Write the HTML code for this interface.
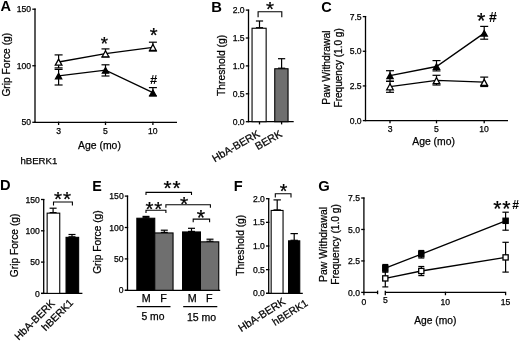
<!DOCTYPE html>
<html><head><meta charset="utf-8"><style>
html,body{margin:0;padding:0;background:#fff;}
body{width:520px;height:341px;overflow:hidden;}
svg{display:block;will-change:transform;}
text{font-family:"Liberation Sans", sans-serif;stroke:#000;stroke-width:0.25px;paint-order:stroke;}
text[font-weight="bold"]{stroke:none;}
</style></head><body>
<svg width="520" height="341" viewBox="0 0 520 341" font-family="Liberation Sans, sans-serif">
<rect width="520" height="341" fill="#fff"/>
<text x="0.51" y="11.47" font-size="14.56" font-weight="bold" fill="#000">A</text>
<line x1="35" y1="8.6" x2="35" y2="122.3" stroke="#000" stroke-width="1.3"/>
<line x1="32.3" y1="9.2" x2="35.65" y2="9.2" stroke="#000" stroke-width="1.3"/>
<text x="16.82" y="12.37" font-size="8.6">150</text>
<line x1="32.3" y1="65.75" x2="35.65" y2="65.75" stroke="#000" stroke-width="1.3"/>
<text x="16.82" y="68.92" font-size="8.6">100</text>
<line x1="32.3" y1="122.3" x2="35.65" y2="122.3" stroke="#000" stroke-width="1.3"/>
<text x="21.6" y="125.47" font-size="8.6">50</text>
<line x1="34.35" y1="122.3" x2="177" y2="122.3" stroke="#000" stroke-width="1.3"/>
<line x1="58.6" y1="121.65" x2="58.6" y2="125" stroke="#000" stroke-width="1.3"/>
<text x="56.23" y="133.62" font-size="8.6">3</text>
<line x1="105.5" y1="121.65" x2="105.5" y2="125" stroke="#000" stroke-width="1.3"/>
<text x="103.11" y="133.53" font-size="8.6">5</text>
<line x1="152.9" y1="121.65" x2="152.9" y2="125" stroke="#000" stroke-width="1.3"/>
<text x="147.98" y="133.62" font-size="8.6">10</text>
<text x="78.05" y="148.93" font-size="10.41" fill="#000">Age (mo)</text>
<text x="20.43" y="164.18" font-size="9.61" fill="#000">hBERK1</text>
<text transform="translate(9.54,96.61) rotate(-90)" font-size="10.26">Grip Force (g)</text>
<polyline points="58.6,62 105.5,53.6 152.9,47.3" fill="none" stroke="#000" stroke-width="1.35" stroke-linejoin="miter"/>
<polyline points="58.6,75.9 105.5,70.2 152.9,92.7" fill="none" stroke="#000" stroke-width="1.35" stroke-linejoin="miter"/>
<line x1="58.6" y1="54.9" x2="58.6" y2="67.9" stroke="#000" stroke-width="1.2"/>
<line x1="54.6" y1="54.9" x2="62.6" y2="54.9" stroke="#000" stroke-width="1.2"/>
<line x1="54.6" y1="67.9" x2="62.6" y2="67.9" stroke="#000" stroke-width="1.2"/>
<line x1="105.5" y1="48.9" x2="105.5" y2="57" stroke="#000" stroke-width="1.2"/>
<line x1="101.5" y1="48.9" x2="109.5" y2="48.9" stroke="#000" stroke-width="1.2"/>
<line x1="101.5" y1="57" x2="109.5" y2="57" stroke="#000" stroke-width="1.2"/>
<line x1="152.9" y1="42.2" x2="152.9" y2="51" stroke="#000" stroke-width="1.2"/>
<line x1="148.9" y1="42.2" x2="156.9" y2="42.2" stroke="#000" stroke-width="1.2"/>
<line x1="148.9" y1="51" x2="156.9" y2="51" stroke="#000" stroke-width="1.2"/>
<line x1="58.6" y1="69.4" x2="58.6" y2="85" stroke="#000" stroke-width="1.2"/>
<line x1="54.6" y1="69.4" x2="62.6" y2="69.4" stroke="#000" stroke-width="1.2"/>
<line x1="54.6" y1="85" x2="62.6" y2="85" stroke="#000" stroke-width="1.2"/>
<line x1="105.5" y1="64.8" x2="105.5" y2="76" stroke="#000" stroke-width="1.2"/>
<line x1="101.5" y1="64.8" x2="109.5" y2="64.8" stroke="#000" stroke-width="1.2"/>
<line x1="101.5" y1="76" x2="109.5" y2="76" stroke="#000" stroke-width="1.2"/>
<line x1="152.9" y1="87.6" x2="152.9" y2="96" stroke="#000" stroke-width="1.2"/>
<line x1="148.9" y1="87.6" x2="156.9" y2="87.6" stroke="#000" stroke-width="1.2"/>
<line x1="148.9" y1="96" x2="156.9" y2="96" stroke="#000" stroke-width="1.2"/>
<polygon points="55.3,65.2 61.9,65.2 58.6,59.15" fill="#fff" stroke="#000" stroke-width="1.3" stroke-linejoin="miter"/>
<polygon points="102.2,56.8 108.8,56.8 105.5,50.75" fill="#fff" stroke="#000" stroke-width="1.3" stroke-linejoin="miter"/>
<polygon points="149.6,50.5 156.2,50.5 152.9,44.45" fill="#fff" stroke="#000" stroke-width="1.3" stroke-linejoin="miter"/>
<polygon points="55.5,78.85 61.7,78.85 58.6,73.3" fill="#000" stroke="#000" stroke-width="1.3" stroke-linejoin="miter"/>
<polygon points="102.4,73.15 108.6,73.15 105.5,67.6" fill="#000" stroke="#000" stroke-width="1.3" stroke-linejoin="miter"/>
<polygon points="149.8,95.65 156,95.65 152.9,90.1" fill="#000" stroke="#000" stroke-width="1.3" stroke-linejoin="miter"/>
<text x="100.73" y="50.01" font-size="18.57" fill="#000">*</text>
<text x="149.82" y="41.77" font-size="20.14" fill="#000">*</text>
<text x="149.88" y="84.33" font-size="13.03" font-weight="bold" fill="#000">#</text>
<text x="211.23" y="11.8" font-size="14.79" font-weight="bold" fill="#000">B</text>
<line x1="248.5" y1="9.6" x2="248.5" y2="121.7" stroke="#000" stroke-width="1.3"/>
<line x1="245.8" y1="10.1" x2="249.15" y2="10.1" stroke="#000" stroke-width="1.3"/>
<text x="232.69" y="13.27" font-size="8.6">2.0</text>
<line x1="245.8" y1="38" x2="249.15" y2="38" stroke="#000" stroke-width="1.3"/>
<text x="232.69" y="41.12" font-size="8.6">1.5</text>
<line x1="245.8" y1="65.9" x2="249.15" y2="65.9" stroke="#000" stroke-width="1.3"/>
<text x="232.69" y="69.07" font-size="8.6">1.0</text>
<line x1="245.8" y1="93.8" x2="249.15" y2="93.8" stroke="#000" stroke-width="1.3"/>
<text x="232.69" y="96.97" font-size="8.6">0.5</text>
<line x1="245.8" y1="121.7" x2="249.15" y2="121.7" stroke="#000" stroke-width="1.3"/>
<text x="232.69" y="124.87" font-size="8.6">0.0</text>
<line x1="247.85" y1="121.7" x2="293.7" y2="121.7" stroke="#000" stroke-width="1.3"/>
<line x1="259.5" y1="121.05" x2="259.5" y2="124.4" stroke="#000" stroke-width="1.3"/>
<line x1="281.6" y1="121.05" x2="281.6" y2="124.4" stroke="#000" stroke-width="1.3"/>
<text transform="translate(225.05,95.91) rotate(-90)" font-size="10.28">Threshold (g)</text>
<line x1="259.5" y1="21" x2="259.5" y2="27.7" stroke="#000" stroke-width="1.2"/>
<line x1="255.9" y1="21" x2="263.1" y2="21" stroke="#000" stroke-width="1.2"/>
<line x1="255.9" y1="27.7" x2="263.1" y2="27.7" stroke="#000" stroke-width="1.2"/>
<rect x="252.05" y="28.25" width="14.1" height="93.45" fill="#fff" stroke="#000" stroke-width="1.1"/>
<line x1="281.6" y1="58.7" x2="281.6" y2="68.2" stroke="#000" stroke-width="1.2"/>
<line x1="278" y1="58.7" x2="285.2" y2="58.7" stroke="#000" stroke-width="1.2"/>
<line x1="278" y1="68.2" x2="285.2" y2="68.2" stroke="#000" stroke-width="1.2"/>
<rect x="274.75" y="68.75" width="13.3" height="52.95" fill="#6f6f6f" stroke="#000" stroke-width="1.1"/>
<polyline points="258.1,17.3 258.1,11.7 281.8,11.7 281.8,17.3" fill="none" stroke="#000" stroke-width="1.1" stroke-linejoin="miter"/>
<text x="265.94" y="15.94" font-size="20.57" fill="#000">*</text>
<text transform="translate(260.6,135.9) rotate(-30)" font-size="10.6" text-anchor="end">HbA-BERK</text>
<text transform="translate(282.8,135.9) rotate(-30)" font-size="10.6" text-anchor="end">BERK</text>
<text x="321.27" y="11.7" font-size="14.5" font-weight="bold" fill="#000">C</text>
<line x1="365.5" y1="16" x2="365.5" y2="120.6" stroke="#000" stroke-width="1.3"/>
<line x1="362.8" y1="16.6" x2="366.15" y2="16.6" stroke="#000" stroke-width="1.3"/>
<text x="349.69" y="19.72" font-size="8.6">7.5</text>
<line x1="362.8" y1="51.27" x2="366.15" y2="51.27" stroke="#000" stroke-width="1.3"/>
<text x="349.69" y="54.43" font-size="8.6">5.0</text>
<line x1="362.8" y1="85.93" x2="366.15" y2="85.93" stroke="#000" stroke-width="1.3"/>
<text x="349.69" y="89.1" font-size="8.6">2.5</text>
<line x1="362.8" y1="120.6" x2="366.15" y2="120.6" stroke="#000" stroke-width="1.3"/>
<text x="349.69" y="123.77" font-size="8.6">0.0</text>
<line x1="364.85" y1="120.6" x2="508" y2="120.6" stroke="#000" stroke-width="1.3"/>
<line x1="390" y1="119.95" x2="390" y2="123.3" stroke="#000" stroke-width="1.3"/>
<text x="387.63" y="131.92" font-size="8.6">3</text>
<line x1="436.5" y1="119.95" x2="436.5" y2="123.3" stroke="#000" stroke-width="1.3"/>
<text x="434.11" y="131.83" font-size="8.6">5</text>
<line x1="484.2" y1="119.95" x2="484.2" y2="123.3" stroke="#000" stroke-width="1.3"/>
<text x="479.28" y="131.92" font-size="8.6">10</text>
<text x="412.25" y="144.92" font-size="10.38" fill="#000">Age (mo)</text>
<text transform="translate(330.03,104.73) rotate(-90)" font-size="10.38">Paw Withdrawal</text>
<text transform="translate(342.19,107.5) rotate(-90)" font-size="10.05">Frequency (1.0 g)</text>
<polyline points="390,86.6 436.5,80.4 484.2,82.2" fill="none" stroke="#000" stroke-width="1.35" stroke-linejoin="miter"/>
<polyline points="390,75.6 436.5,66.5 484.2,33.1" fill="none" stroke="#000" stroke-width="1.35" stroke-linejoin="miter"/>
<line x1="390" y1="81.3" x2="390" y2="92.3" stroke="#000" stroke-width="1.2"/>
<line x1="386" y1="81.3" x2="394" y2="81.3" stroke="#000" stroke-width="1.2"/>
<line x1="386" y1="92.3" x2="394" y2="92.3" stroke="#000" stroke-width="1.2"/>
<line x1="436.5" y1="75.3" x2="436.5" y2="85" stroke="#000" stroke-width="1.2"/>
<line x1="432.5" y1="75.3" x2="440.5" y2="75.3" stroke="#000" stroke-width="1.2"/>
<line x1="432.5" y1="85" x2="440.5" y2="85" stroke="#000" stroke-width="1.2"/>
<line x1="484.2" y1="77.1" x2="484.2" y2="86.5" stroke="#000" stroke-width="1.2"/>
<line x1="480.2" y1="77.1" x2="488.2" y2="77.1" stroke="#000" stroke-width="1.2"/>
<line x1="480.2" y1="86.5" x2="488.2" y2="86.5" stroke="#000" stroke-width="1.2"/>
<line x1="390" y1="70.7" x2="390" y2="81.3" stroke="#000" stroke-width="1.2"/>
<line x1="386" y1="70.7" x2="394" y2="70.7" stroke="#000" stroke-width="1.2"/>
<line x1="386" y1="81.3" x2="394" y2="81.3" stroke="#000" stroke-width="1.2"/>
<line x1="436.5" y1="60.6" x2="436.5" y2="70.9" stroke="#000" stroke-width="1.2"/>
<line x1="432.5" y1="60.6" x2="440.5" y2="60.6" stroke="#000" stroke-width="1.2"/>
<line x1="432.5" y1="70.9" x2="440.5" y2="70.9" stroke="#000" stroke-width="1.2"/>
<line x1="484.2" y1="26.4" x2="484.2" y2="39.2" stroke="#000" stroke-width="1.2"/>
<line x1="480.2" y1="26.4" x2="488.2" y2="26.4" stroke="#000" stroke-width="1.2"/>
<line x1="480.2" y1="39.2" x2="488.2" y2="39.2" stroke="#000" stroke-width="1.2"/>
<polygon points="386.7,89.8 393.3,89.8 390,83.75" fill="#fff" stroke="#000" stroke-width="1.3" stroke-linejoin="miter"/>
<polygon points="433.2,83.6 439.8,83.6 436.5,77.55" fill="#fff" stroke="#000" stroke-width="1.3" stroke-linejoin="miter"/>
<polygon points="480.9,85.4 487.5,85.4 484.2,79.35" fill="#fff" stroke="#000" stroke-width="1.3" stroke-linejoin="miter"/>
<polygon points="386.9,78.55 393.1,78.55 390,73" fill="#000" stroke="#000" stroke-width="1.3" stroke-linejoin="miter"/>
<polygon points="433.4,69.45 439.6,69.45 436.5,63.9" fill="#000" stroke="#000" stroke-width="1.3" stroke-linejoin="miter"/>
<polygon points="481.1,36.05 487.3,36.05 484.2,30.5" fill="#000" stroke="#000" stroke-width="1.3" stroke-linejoin="miter"/>
<text x="476.89" y="27.56" font-size="21.57" fill="#000">*</text>
<text x="489.03" y="21.5" font-size="14.12" font-weight="bold" fill="#000">#</text>
<text x="-0.01" y="190.45" font-size="14.64" font-weight="bold" fill="#000">D</text>
<line x1="43.7" y1="199" x2="43.7" y2="293.4" stroke="#000" stroke-width="1.3"/>
<line x1="41" y1="199.5" x2="44.35" y2="199.5" stroke="#000" stroke-width="1.3"/>
<text x="25.52" y="202.67" font-size="8.6">150</text>
<line x1="41" y1="230.8" x2="44.35" y2="230.8" stroke="#000" stroke-width="1.3"/>
<text x="25.52" y="233.97" font-size="8.6">100</text>
<line x1="41" y1="262.1" x2="44.35" y2="262.1" stroke="#000" stroke-width="1.3"/>
<text x="30.3" y="265.27" font-size="8.6">50</text>
<line x1="41" y1="293.4" x2="44.35" y2="293.4" stroke="#000" stroke-width="1.3"/>
<text x="35.07" y="296.57" font-size="8.6">0</text>
<line x1="41.2" y1="293.4" x2="82.4" y2="293.4" stroke="#000" stroke-width="1.3"/>
<text transform="translate(18.12,277.21) rotate(-90)" font-size="10.23">Grip Force (g)</text>
<line x1="53.1" y1="208.2" x2="53.1" y2="212.6" stroke="#000" stroke-width="1.2"/>
<line x1="49.6" y1="208.2" x2="56.6" y2="208.2" stroke="#000" stroke-width="1.2"/>
<line x1="49.6" y1="212.6" x2="56.6" y2="212.6" stroke="#000" stroke-width="1.2"/>
<rect x="47.15" y="213.15" width="12.6" height="80.25" fill="#fff" stroke="#000" stroke-width="1.1"/>
<line x1="72" y1="234.5" x2="72" y2="236.8" stroke="#000" stroke-width="1.2"/>
<line x1="68.5" y1="234.5" x2="75.5" y2="234.5" stroke="#000" stroke-width="1.2"/>
<line x1="68.5" y1="236.8" x2="75.5" y2="236.8" stroke="#000" stroke-width="1.2"/>
<rect x="66.05" y="237.35" width="12.6" height="56.05" fill="#000" stroke="#000" stroke-width="1.1"/>
<polyline points="53.5,205.4 53.5,202 72.4,202 72.4,205.4" fill="none" stroke="#000" stroke-width="1.1" stroke-linejoin="miter"/>
<text x="53.91" y="205.76" font-size="20.7" fill="#000">*</text>
<text x="63.12" y="205.76" font-size="20.7" fill="#000">*</text>
<text transform="translate(55.5,304) rotate(-45)" font-size="10.4" text-anchor="end">HbA-BERK</text>
<text transform="translate(73.8,303.5) rotate(-45)" font-size="10.3" text-anchor="end">hBERK1</text>
<text x="92.24" y="191.08" font-size="14.29" font-weight="bold" fill="#000">E</text>
<line x1="127.5" y1="195.6" x2="127.5" y2="290.3" stroke="#000" stroke-width="1.3"/>
<line x1="124.8" y1="196.1" x2="128.15" y2="196.1" stroke="#000" stroke-width="1.3"/>
<text x="109.33" y="199.27" font-size="8.6">150</text>
<line x1="124.8" y1="227.5" x2="128.15" y2="227.5" stroke="#000" stroke-width="1.3"/>
<text x="109.33" y="230.67" font-size="8.6">100</text>
<line x1="124.8" y1="258.9" x2="128.15" y2="258.9" stroke="#000" stroke-width="1.3"/>
<text x="114.1" y="262.07" font-size="8.6">50</text>
<line x1="124.8" y1="290.3" x2="128.15" y2="290.3" stroke="#000" stroke-width="1.3"/>
<text x="118.87" y="293.47" font-size="8.6">0</text>
<line x1="124.8" y1="290.3" x2="220.2" y2="290.3" stroke="#000" stroke-width="1.3"/>
<text transform="translate(101.29,273.81) rotate(-90)" font-size="10.2">Grip Force (g)</text>
<line x1="146" y1="216.4" x2="146" y2="217.7" stroke="#000" stroke-width="1.2"/>
<line x1="142.5" y1="216.4" x2="149.5" y2="216.4" stroke="#000" stroke-width="1.2"/>
<line x1="142.5" y1="217.7" x2="149.5" y2="217.7" stroke="#000" stroke-width="1.2"/>
<line x1="164.3" y1="230.2" x2="164.3" y2="232.4" stroke="#000" stroke-width="1.2"/>
<line x1="160.8" y1="230.2" x2="167.8" y2="230.2" stroke="#000" stroke-width="1.2"/>
<line x1="160.8" y1="232.4" x2="167.8" y2="232.4" stroke="#000" stroke-width="1.2"/>
<line x1="191.5" y1="228.3" x2="191.5" y2="231.4" stroke="#000" stroke-width="1.2"/>
<line x1="188" y1="228.3" x2="195" y2="228.3" stroke="#000" stroke-width="1.2"/>
<line x1="188" y1="231.4" x2="195" y2="231.4" stroke="#000" stroke-width="1.2"/>
<line x1="210" y1="239.2" x2="210" y2="241.3" stroke="#000" stroke-width="1.2"/>
<line x1="206.5" y1="239.2" x2="213.5" y2="239.2" stroke="#000" stroke-width="1.2"/>
<line x1="206.5" y1="241.3" x2="213.5" y2="241.3" stroke="#000" stroke-width="1.2"/>
<rect x="136.85" y="218.25" width="17.9" height="72.05" fill="#000" stroke="#000" stroke-width="1.1"/>
<rect x="154.75" y="232.95" width="18.3" height="57.35" fill="#6f6f6f" stroke="#000" stroke-width="1.1"/>
<rect x="182.55" y="231.95" width="17.9" height="58.35" fill="#000" stroke="#000" stroke-width="1.1"/>
<rect x="200.45" y="241.85" width="18.3" height="48.45" fill="#6f6f6f" stroke="#000" stroke-width="1.1"/>
<polyline points="146,195.1 146,192.4 191.5,192.4 191.5,195.1" fill="none" stroke="#000" stroke-width="1.1" stroke-linejoin="miter"/>
<polyline points="146,213 146,210.3 165.9,210.3 165.9,213" fill="none" stroke="#000" stroke-width="1.1" stroke-linejoin="miter"/>
<polyline points="165.9,207.8 165.9,204.7 210.4,204.7 210.4,207.8" fill="none" stroke="#000" stroke-width="1.1" stroke-linejoin="miter"/>
<polyline points="193.2,222.2 193.2,219.1 209.6,219.1 209.6,222.2" fill="none" stroke="#000" stroke-width="1.1" stroke-linejoin="miter"/>
<text x="163.55" y="195.38" font-size="20.65" fill="#000">*</text>
<text x="172.6" y="195.38" font-size="20.65" fill="#000">*</text>
<text x="145.56" y="215.81" font-size="20.41" fill="#000">*</text>
<text x="154.28" y="215.81" font-size="20.41" fill="#000">*</text>
<text x="179.98" y="210.99" font-size="21.14" fill="#000">*</text>
<text x="196.82" y="224.54" font-size="21.43" fill="#000">*</text>
<text x="141.8" y="302.1" font-size="10.72" fill="#000">M</text>
<text x="160.21" y="302.1" font-size="10.72" fill="#000">F</text>
<text x="187.65" y="302.1" font-size="10.72" fill="#000">M</text>
<text x="205.96" y="302.1" font-size="10.72" fill="#000">F</text>
<line x1="136.8" y1="306.6" x2="170.5" y2="306.6" stroke="#000" stroke-width="1.1"/>
<line x1="183.2" y1="306.6" x2="217.3" y2="306.6" stroke="#000" stroke-width="1.1"/>
<text x="141.39" y="320.48" font-size="10.37" fill="#000">5 mo</text>
<text x="186.91" y="320.53" font-size="10.54" fill="#000">15 mo</text>
<text x="233.68" y="191.04" font-size="14.6" font-weight="bold" fill="#000">F</text>
<line x1="268.7" y1="198.3" x2="268.7" y2="293.3" stroke="#000" stroke-width="1.3"/>
<line x1="266" y1="198.7" x2="269.35" y2="198.7" stroke="#000" stroke-width="1.3"/>
<text x="252.89" y="201.87" font-size="8.6">2.0</text>
<line x1="266" y1="222.35" x2="269.35" y2="222.35" stroke="#000" stroke-width="1.3"/>
<text x="252.89" y="225.47" font-size="8.6">1.5</text>
<line x1="266" y1="246" x2="269.35" y2="246" stroke="#000" stroke-width="1.3"/>
<text x="252.89" y="249.17" font-size="8.6">1.0</text>
<line x1="266" y1="269.65" x2="269.35" y2="269.65" stroke="#000" stroke-width="1.3"/>
<text x="252.89" y="272.82" font-size="8.6">0.5</text>
<line x1="266" y1="293.3" x2="269.35" y2="293.3" stroke="#000" stroke-width="1.3"/>
<text x="252.89" y="296.47" font-size="8.6">0.0</text>
<line x1="266" y1="293.3" x2="302.8" y2="293.3" stroke="#000" stroke-width="1.3"/>
<text transform="translate(244.15,275.81) rotate(-90)" font-size="10.28">Threshold (g)</text>
<line x1="277.2" y1="199.9" x2="277.2" y2="209.9" stroke="#000" stroke-width="1.2"/>
<line x1="273.5" y1="199.9" x2="280.9" y2="199.9" stroke="#000" stroke-width="1.2"/>
<line x1="273.5" y1="209.9" x2="280.9" y2="209.9" stroke="#000" stroke-width="1.2"/>
<rect x="271.15" y="210.45" width="11.9" height="82.85" fill="#fff" stroke="#000" stroke-width="1.1"/>
<line x1="294.2" y1="233.6" x2="294.2" y2="240.3" stroke="#000" stroke-width="1.2"/>
<line x1="290.5" y1="233.6" x2="297.9" y2="233.6" stroke="#000" stroke-width="1.2"/>
<line x1="290.5" y1="240.3" x2="297.9" y2="240.3" stroke="#000" stroke-width="1.2"/>
<rect x="288.55" y="240.85" width="11.2" height="52.45" fill="#000" stroke="#000" stroke-width="1.1"/>
<polyline points="275.3,197.4 275.3,193.7 291,193.7 291,197.4" fill="none" stroke="#000" stroke-width="1.1" stroke-linejoin="miter"/>
<text x="279.73" y="198.18" font-size="19.57" fill="#000">*</text>
<text transform="translate(286.4,303.4) rotate(-32.5)" font-size="10.7" text-anchor="end">HbA-BERK</text>
<text transform="translate(308.6,305) rotate(-32)" font-size="10.3" text-anchor="end">hBERK1</text>
<text x="318.21" y="191.36" font-size="14.8" font-weight="bold" fill="#000">G</text>
<line x1="363.9" y1="197.5" x2="363.9" y2="292.4" stroke="#000" stroke-width="1.3"/>
<line x1="361.2" y1="198" x2="364.55" y2="198" stroke="#000" stroke-width="1.3"/>
<text x="348.09" y="201.12" font-size="8.6">7.5</text>
<line x1="361.2" y1="229.47" x2="364.55" y2="229.47" stroke="#000" stroke-width="1.3"/>
<text x="348.09" y="232.63" font-size="8.6">5.0</text>
<line x1="361.2" y1="260.93" x2="364.55" y2="260.93" stroke="#000" stroke-width="1.3"/>
<text x="348.09" y="264.1" font-size="8.6">2.5</text>
<line x1="361.2" y1="292.4" x2="364.55" y2="292.4" stroke="#000" stroke-width="1.3"/>
<text x="348.09" y="295.57" font-size="8.6">0.0</text>
<text transform="translate(327,281.94) rotate(-90)" font-size="10.48">Paw Withdrawal</text>
<text transform="translate(339.11,284.72) rotate(-90)" font-size="10.22">Frequency (1.0 g)</text>
<line x1="363.25" y1="292.4" x2="377.6" y2="292.4" stroke="#000" stroke-width="1.3"/>
<line x1="377.6" y1="290.6" x2="377.6" y2="294.2" stroke="#000" stroke-width="1.3"/>
<line x1="385.3" y1="292.4" x2="505.2" y2="292.4" stroke="#000" stroke-width="1.3"/>
<line x1="385.3" y1="290.8" x2="385.3" y2="295.2" stroke="#000" stroke-width="1.3"/>
<line x1="445.45" y1="291.75" x2="445.45" y2="295.2" stroke="#000" stroke-width="1.3"/>
<line x1="505.6" y1="291.75" x2="505.6" y2="295.2" stroke="#000" stroke-width="1.3"/>
<line x1="363.9" y1="292.4" x2="363.9" y2="295.2" stroke="#000" stroke-width="1.3"/>
<text x="382.91" y="303.23" font-size="8.6">5</text>
<text x="440.53" y="304.72" font-size="8.6">10</text>
<text x="500.68" y="304.63" font-size="8.6">15</text>
<text x="361.46" y="305.37" font-size="8.6" fill="#000">0</text>
<text x="414.15" y="323.84" font-size="10.26" fill="#000">Age (mo)</text>
<polyline points="385.3,278.4 421.3,271 505.6,257.4" fill="none" stroke="#000" stroke-width="1.35" stroke-linejoin="miter"/>
<polyline points="385.3,268.2 421.3,254.2 505.6,220.8" fill="none" stroke="#000" stroke-width="1.35" stroke-linejoin="miter"/>
<line x1="385.3" y1="264.5" x2="385.3" y2="271.9" stroke="#000" stroke-width="1.2"/>
<line x1="382.3" y1="264.5" x2="388.3" y2="264.5" stroke="#000" stroke-width="1.2"/>
<line x1="382.3" y1="271.9" x2="388.3" y2="271.9" stroke="#000" stroke-width="1.2"/>
<line x1="421.3" y1="250.5" x2="421.3" y2="258" stroke="#000" stroke-width="1.2"/>
<line x1="418.3" y1="250.5" x2="424.3" y2="250.5" stroke="#000" stroke-width="1.2"/>
<line x1="418.3" y1="258" x2="424.3" y2="258" stroke="#000" stroke-width="1.2"/>
<line x1="505.6" y1="212.2" x2="505.6" y2="230.2" stroke="#000" stroke-width="1.2"/>
<line x1="502.4" y1="212.2" x2="508.8" y2="212.2" stroke="#000" stroke-width="1.2"/>
<line x1="502.4" y1="230.2" x2="508.8" y2="230.2" stroke="#000" stroke-width="1.2"/>
<line x1="385.3" y1="272" x2="385.3" y2="286.9" stroke="#000" stroke-width="1.2"/>
<line x1="382.3" y1="272" x2="388.3" y2="272" stroke="#000" stroke-width="1.2"/>
<line x1="382.3" y1="286.9" x2="388.3" y2="286.9" stroke="#000" stroke-width="1.2"/>
<line x1="421.3" y1="266.5" x2="421.3" y2="275.6" stroke="#000" stroke-width="1.2"/>
<line x1="418.3" y1="266.5" x2="424.3" y2="266.5" stroke="#000" stroke-width="1.2"/>
<line x1="418.3" y1="275.6" x2="424.3" y2="275.6" stroke="#000" stroke-width="1.2"/>
<line x1="505.6" y1="242.3" x2="505.6" y2="272.1" stroke="#000" stroke-width="1.2"/>
<line x1="502.4" y1="242.3" x2="508.8" y2="242.3" stroke="#000" stroke-width="1.2"/>
<line x1="502.4" y1="272.1" x2="508.8" y2="272.1" stroke="#000" stroke-width="1.2"/>
<rect x="382.7" y="275.8" width="5.2" height="5.2" fill="#fff" stroke="#000" stroke-width="1.3"/>
<rect x="418.7" y="268.4" width="5.2" height="5.2" fill="#fff" stroke="#000" stroke-width="1.3"/>
<rect x="503" y="254.8" width="5.2" height="5.2" fill="#fff" stroke="#000" stroke-width="1.3"/>
<rect x="382.7" y="265.6" width="5.2" height="5.2" fill="#000" stroke="#000" stroke-width="1.3"/>
<rect x="418.7" y="251.6" width="5.2" height="5.2" fill="#000" stroke="#000" stroke-width="1.3"/>
<rect x="503" y="218.2" width="5.2" height="5.2" fill="#000" stroke="#000" stroke-width="1.3"/>
<text x="493.23" y="215.85" font-size="21.16" fill="#000">*</text>
<text x="502.22" y="215.85" font-size="21.16" fill="#000">*</text>
<text x="512.23" y="209.38" font-size="12.15" font-weight="bold" fill="#000">#</text>
</svg>
</body></html>
